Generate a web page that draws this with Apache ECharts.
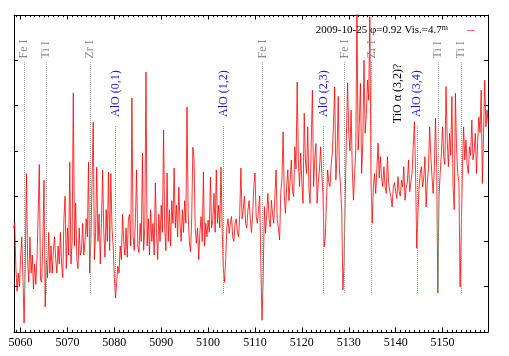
<!DOCTYPE html>
<html>

<head>
	<meta charset="utf-8">
	<title>AlO spectrum 2009-10-25</title>
	<script src="https://cdn.jsdelivr.net/npm/echarts@6.0.0/dist/echarts.min.js"></script>
	<style>
		html, body { margin: 0; padding: 0; background: #fff; }
		#specChart { width: 509px; height: 356px; }
	</style>
</head>

<body>
	<div id="specChart"></div>
	<script>
		// spectrum, sampled every 0.25 A starting at 5058.5 A (rows = one angstrom)
		var fluxStart = 5058.5;
		var fluxStep = 0.25;
		var flux = [
			2.3, 2.4,
			1.4, 0.9, 1.3, 1.0,        // 5059
			1.6, 2.1, 1.2, 0.2,        // 5060
			1.5, 3.5, 1.6, 1.1,
			2.1, 1.3, 1.7, 0.95,
			1.5, 1.05, 1.6, 2.6,
			3.7, 1.15, 1.1, 2.0,
			3.35, 0.55, 1.6, 1.2,      // 5065
			2.2, 1.3, 1.9, 1.3,
			1.8, 2.1, 1.6, 1.3,
			1.9, 1.5, 2.2, 1.5,
			1.2, 2.5, 3.0, 1.4,
			2.3, 1.7, 3.75, 1.5,       // 5070
			2.0, 5.28, 1.9, 2.85,
			1.6, 1.4, 2.3, 1.7,
			1.8, 2.4, 1.7, 2.0,
			2.5, 2.1, 3.75, 1.3,
			2.0, 3.36, 4.64, 1.6,      // 5075
			2.2, 3.64, 2.0, 2.6,
			1.5, 2.4, 3.58, 2.2,
			1.65, 2.7, 2.0, 3.53,
			1.8, 3.5, 2.3, 1.9,
			1.2, 0.75, 1.1, 1.45,      // 5080
			1.3, 1.9, 1.6, 2.6,
			2.0, 1.7, 2.3, 1.65,
			2.5, 2.6, 1.9, 5.17,
			2.1, 1.8, 2.5, 3.58,
			1.9, 1.75, 2.4, 2.0,       // 5085
			3.95, 1.8, 2.3, 5.74,
			1.9, 2.5, 1.7, 2.7,
			2.0, 2.4, 1.7, 3.29,
			2.2, 1.6, 2.6, 2.0,
			2.8, 2.2, 4.46, 2.3,       // 5090
			1.8, 3.51, 2.0, 2.7,
			1.9, 2.9, 2.4, 3.62,
			2.3, 2.8, 2.1, 3.2,
			2.4, 2.0, 2.7, 2.2,
			2.9, 2.4, 4.97, 2.6,       // 5095
			2.0, 1.77, 2.5, 4.08,
			3.8, 2.3, 1.96, 2.3,
			1.6, 2.2, 2.55, 2.0,
			3.53, 1.9, 2.4, 2.1,
			2.47, 2.2, 3.42, 2.3,      // 5100
			2.47, 3.06, 2.2, 3.58,
			2.4, 2.8, 2.3, 3.64,
			2.3, 1.4, 1.10, 1.6,
			2.3, 2.5, 2.18, 2.4,
			2.55, 2.1, 2.0, 2.4,       // 5105
			2.5, 2.2, 2.1, 2.6,
			3.62, 2.5, 2.7, 3.0,
			2.4, 2.3, 2.7, 2.9,
			2.5, 2.2, 2.6, 3.2,
			3.51, 2.55, 2.4, 2.7,      // 5110
			3.0, 1.5, 0.26, 1.2,
			2.77, 2.18, 2.6, 3.06,
			2.5, 2.32, 2.91, 2.6,
			2.4, 3.0, 3.58, 2.47,
			2.3, 2.03, 3.06, 3.4,      // 5115
			4.42, 3.0, 2.62, 3.2,
			3.58, 2.9, 2.91, 3.8,
			3.1, 2.99, 4.09, 3.6,
			5.52, 3.8, 3.21, 3.95,
			3.3, 2.84, 4.83, 3.8,      // 5120
			3.5, 4.53, 3.2, 2.84,
			4.2, 5.34, 3.21, 3.8,
			4.16, 2.84, 3.3, 3.58,
			4.09, 3.5, 3.06, 1.88,
			2.1, 2.9, 3.58, 3.3,       // 5125
			3.21, 3.7, 3.95, 4.6,
			5.41, 3.36, 3.9, 5.2,
			3.6, 3.21, 2.69, 0.93,
			1.5, 3.0, 4.35, 5.5,
			4.39, 4.0, 4.9, 3.6,       // 5130
			2.91, 3.5, 4.02, 7.1,
			4.02, 4.6, 5.49, 3.5,
			4.2, 6.0, 4.39, 4.8,
			5.56, 5.12, 6.96, 3.29,
			2.40, 3.2, 3.5, 3.06,      // 5135
			3.6, 4.17, 3.4, 3.87,
			3.4, 3.21, 3.65, 3.2,
			3.06, 3.87, 3.3, 3.1,
			2.99, 2.76, 3.2, 3.3,
			3.1, 2.95, 3.43, 3.1,      // 5140
			3.0, 3.35, 3.2, 3.65,
			2.91, 3.2, 3.3, 3.8,
			3.1, 3.3, 3.5, 4.09,
			4.64, 3.5, 1.85, 2.6,
			3.2, 3.5, 3.65, 3.2,       // 5145
			3.4, 3.87, 2.76, 3.3,
			3.6, 4.53, 3.9, 3.43,
			3.06, 3.6, 4.72, 3.65,
			0.86, 3.0, 3.5, 3.94,
			4.53, 3.87, 3.7, 5.42,     // 5150
			4.24, 3.65, 4.39, 3.9,
			5.2, 3.21, 2.7, 5.27,
			4.02, 3.5, 3.3, 1.0,
			2.2, 3.65, 4.53, 3.8,
			4.24, 3.7, 3.5, 4.09,      // 5155
			3.9, 4.68, 3.8, 4.0,
			4.39, 3.5, 4.2, 4.75,
			4.4, 5.34, 3.28, 4.39,
			5.56, 4.53, 4.9, 4.6
		];

		// identified lines
		var lineNames = ['Fe I', 'Ti I', 'Zr I', 'AlO (0,1)', 'AlO (1,2)', 'Fe I', 'AlO (2,3)', 'Fe I', 'Zr I', 'AlO (3,4)', 'Ti I', 'Ti I'];
		var lineLambdas = [5060.77, 5065.40, 5074.87, 5080.25, 5103.26, 5111.61, 5124.65, 5129.11, 5134.90, 5144.51, 5149.08, 5153.91];
		var lineKinds = ['atom', 'atom', 'atom', 'alo', 'alo', 'atom', 'alo', 'atom', 'atom', 'alo', 'atom', 'atom'];
		var tioName = 'TiO \u03b1 (3,2)?';
		var tioLambda = 5140.45;

		var xTicks = [5060, 5070, 5080, 5090, 5100, 5110, 5120, 5130, 5140, 5150];
		var seriesName = '2009-10-25 \u03c6=0.92 Vis.=4.7m';

		var xMin = 5058.6, xMax = 5159.7;
		var serif = 'Liberation Serif';

		var spec = [];
		for (var i = 0; i < flux.length; i++)
			spec.push([fluxStart + i * fluxStep, flux[i]]);

		var minorTicks = [];
		for (var t = Math.ceil(xMin); t <= xMax; t++)
			minorTicks.push(t);

		var atomMarks = [], aloMarks = [], labels = [];
		for (var k = 0; k < lineLambdas.length; k++) {
			var atom = lineKinds[k] == 'atom';
			(atom ? atomMarks : aloMarks).push([
				{ coord: [lineLambdas[k], 0.86] },
				{ coord: [lineLambdas[k], atom ? 5.98 : 4.55] }
			]);
			labels.push({
				value: [lineLambdas[k], atom ? 6.04 : 4.75],
				name: lineNames[k],
				label: { color: atom ? '#8a8a8a' : '#1a1aff' }
			});
		}
		labels.push({ value: [tioLambda, 4.61], name: tioName, label: { color: '#000' } });

		function markSeries(name, marks, color) {
			return {
				name: name, type: 'line', data: [],
				markLine: {
					silent: true, symbol: 'none', animation: false,
					label: { show: false },
					lineStyle: { type: 'dotted', width: 1, color: color, opacity: 1 },
					emphasis: { disabled: true },
					data: marks
				},
				z: 1
			};
		}

		function xAxisPart(pos, major) {
			return {
				type: 'value', position: pos, min: xMin, max: xMax,
				splitLine: { show: false },
				axisLine: { show: major, lineStyle: { color: '#000', width: 1 } },
				axisTick: {
					inside: true, length: major ? 4.5 : 2.2,
					customValues: major ? xTicks : minorTicks,
					lineStyle: { color: '#000', width: 1 }
				},
				axisLabel: {
					show: major && pos == 'bottom', customValues: xTicks, margin: 5,
					color: '#000', fontFamily: serif, fontSize: 12,
					formatter: function (v) { return String(v); }
				}
			};
		}
		function yAxisPart(pos) {
			return {
				type: 'value', position: pos, min: 0, max: 7, interval: 1,
				splitLine: { show: false },
				axisLine: { show: true, lineStyle: { color: '#000', width: 1 } },
				axisTick: { inside: true, length: 4, lineStyle: { color: '#000' } },
				axisLabel: { show: false }
			};
		}

		var chart = echarts.init(document.getElementById('specChart'), null, { renderer: 'canvas' });
		chart.setOption({
			animation: false,
			grid: { left: 14, right: 21, top: 15, bottom: 24 },
			legend: {
				data: [seriesName], right: 29, top: 19, align: 'right',
				icon: 'rect', itemWidth: 8, itemHeight: 1,
				itemStyle: { color: '#ff7070' },
				formatter: function () { return '{t|2009-10-25 \u03c6=0.92 Vis.=4.7}{s|m}'; },
				textStyle: {
					color: '#000', fontFamily: serif, fontSize: 11,
					rich: {
						t: { fontFamily: serif, fontSize: 11, lineHeight: 13, color: '#000' },
						s: { fontFamily: serif, fontSize: 8, lineHeight: 8, verticalAlign: 'top', color: '#000', padding: [0, 14, 0, 0] }
					}
				}
			},
			xAxis: [xAxisPart('bottom', true), xAxisPart('bottom', false), xAxisPart('top', true), xAxisPart('top', false)],
			yAxis: [yAxisPart('left'), yAxisPart('right')],
			series: [
				markSeries('atom lines', atomMarks, '#a0a0a0'),
				markSeries('AlO lines', aloMarks, '#22dd22'),
				{
					name: seriesName, type: 'line', data: spec,
					showSymbol: false, symbol: 'none', sampling: 'none',
					color: '#ff0000',
					lineStyle: { color: '#ff0000', width: 0.8 },
					z: 2
				},
				{
					name: 'labels', type: 'scatter', data: labels,
					symbolSize: 1, itemStyle: { color: 'rgba(0,0,0,0)' },
					label: {
						show: true, position: 'inside', rotate: 90, opacity: 1,
						align: 'left', verticalAlign: 'middle',
						fontFamily: serif, fontSize: 12,
						formatter: function (p) { return p.name; }
					},
					labelLayout: { hideOverlap: false },
					z: 3
				}
			]
		});
	</script>
</body>

</html>
